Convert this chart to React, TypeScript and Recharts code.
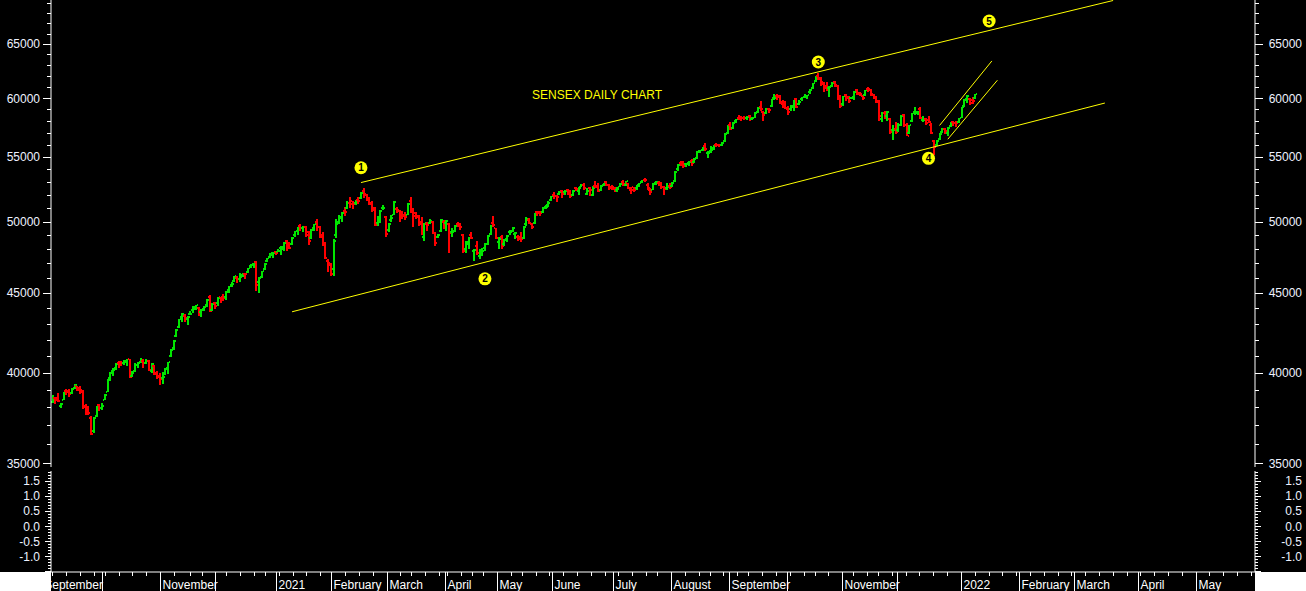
import { Bar, ComposedChart, Line, ReferenceDot, ReferenceLine, XAxis, YAxis } from "recharts";

// daily bars, [open, high, low, close]
const sep2020 = [
  [38300, 38720, 38250, 38357], [38530, 38610, 38200, 38417], [38520, 38790, 38300, 38365], [38100, 38260, 37940, 38194],
  [38420, 38880, 38400, 38840], [38900, 39030, 38700, 38854], [38950, 39070, 38600, 38757], [38800, 39100, 38730, 39044],
  [39100, 39360, 39050, 39303], [39200, 39240, 38900, 38980], [39100, 39200, 38730, 38845], [38960, 39000, 37900, 38034],
  [38100, 38200, 37550, 37734], [37900, 38080, 37590, 37668], [37400, 37490, 36500, 36553], [36700, 37450, 36600, 37389],
  [37500, 38050, 37450, 37982], [38150, 38180, 37800, 37973], [37980, 38240, 37870, 38068],
];
const oct2020 = [
  [38410, 38760, 38390, 38697], [38880, 39640, 38850, 39574], [39700, 40010, 39500, 39979], [40080, 40250, 39800, 40182],
  [40300, 40580, 40150, 40509], [40600, 40680, 40300, 40509], [40650, 40710, 40400, 40594], [40600, 40780, 40450, 40626],
  [40700, 40830, 40400, 40795], [40800, 40830, 39680, 39728], [39800, 40090, 39750, 39983], [40100, 40600, 40050, 40432],
  [40450, 40650, 40300, 40544], [40650, 40900, 40550, 40708], [40720, 40790, 40300, 40558], [40600, 40800, 40500, 40686],
  [40700, 40750, 40080, 40145], [40100, 40560, 40000, 40522], [40400, 40450, 39870, 39922], [40000, 40120, 39600, 39750],
  [39800, 39950, 39250, 39614],
];
const nov2020 = [
  [39700, 40010, 39330, 39758], [39900, 40300, 39880, 40261], [40240, 40660, 39900, 40616], [41000, 41400, 40950, 41340],
  [41500, 41950, 41350, 41893], [42250, 42650, 42150, 42597], [42800, 43320, 42700, 43278], [43400, 43710, 43100, 43594],
  [43500, 43600, 43100, 43357], [43300, 43510, 42900, 43443], [43600, 43830, 43550, 43638], [43900, 44160, 43700, 43953],
  [44050, 44230, 43900, 44180], [44000, 44050, 43500, 43600], [43750, 43960, 43400, 43882], [43950, 44150, 43800, 44077],
  [44200, 44600, 44100, 44523], [44700, 44830, 43770, 43828], [43900, 44300, 43800, 44260], [44300, 44400, 43950, 44150],
];
const dec2020 = [
  [44350, 44730, 44120, 44655], [44700, 44730, 44300, 44618], [44700, 44950, 44450, 44632], [44700, 45150, 44530, 45080],
  [45200, 45460, 45000, 45426], [45500, 45740, 45400, 45609], [45800, 46160, 45700, 46103], [46000, 46120, 45650, 45960],
  [45950, 46310, 45700, 46099], [46200, 46370, 46100, 46253], [46300, 46350, 45900, 46263], [46400, 46700, 46350, 46666],
  [46800, 46990, 46700, 46890], [46950, 47050, 46650, 46961], [47100, 47200, 45110, 45554], [45700, 46080, 45000, 46007],
  [46100, 46500, 46000, 46444], [46600, 47050, 46550, 46974], [47150, 47410, 47100, 47354], [47460, 47710, 47360, 47613],
  [47700, 47800, 47360, 47746], [47800, 47900, 47600, 47751],
];
const jan2021 = [
  [47790, 47980, 47770, 47869], [48100, 48220, 47590, 48177], [48000, 48490, 47900, 48437], [48600, 48620, 47860, 48174],
  [48400, 48500, 48000, 48093], [48400, 48850, 48300, 48782], [49000, 49300, 48900, 49269], [49300, 49570, 49000, 49517],
  [49700, 49800, 49300, 49492], [49500, 49650, 49200, 49584], [49600, 49700, 48900, 49035], [49200, 49300, 48300, 48564],
  [48800, 49450, 48700, 49398], [49500, 49850, 49300, 49792], [50000, 50184, 49300, 49625], [49600, 49700, 48800, 48879],
  [49000, 49200, 48200, 48348], [48400, 48500, 47300, 47410], [47200, 47300, 46400, 46874], [47000, 47000, 46160, 46286],
];
const feb2021 = [
  [46620, 48760, 46160, 48601], [49000, 50150, 48800, 49798], [50000, 50500, 49800, 50256], [50300, 50700, 50000, 50614],
  [50800, 51070, 50400, 50732], [51000, 51520, 50900, 51349], [51400, 51840, 51000, 51329], [51500, 51550, 50960, 51309],
  [51400, 51650, 51200, 51532], [51600, 51820, 51300, 51544], [51800, 52240, 51700, 52154], [52300, 52516, 51800, 52104],
  [52000, 52080, 51500, 51704], [51800, 51870, 51200, 51324], [51400, 51500, 50700, 50890], [51000, 51100, 49650, 49744],
  [49900, 50400, 49700, 50051], [50100, 50850, 49900, 50782], [51000, 51250, 50850, 51039], [50300, 50400, 48890, 49100],
];
const mar2021 = [
  [49400, 49900, 49200, 49850], [50100, 50450, 50000, 50297], [50500, 51550, 50450, 51445], [50900, 51100, 50600, 50846],
  [50800, 50850, 49950, 50406], [50600, 50800, 50150, 50441], [50500, 50700, 50100, 50364], [50500, 51400, 50450, 51280],
  [51500, 51820, 50600, 50792], [50900, 51000, 49600, 50395], [50600, 50700, 50200, 50364], [50400, 50500, 49700, 49802],
  [50000, 50300, 49000, 49216], [48900, 49900, 48600, 49858], [49800, 50000, 49300, 49771], [49900, 50200, 49800, 50051],
  [50000, 50050, 49100, 49180], [49200, 49250, 48240, 48440], [48900, 49100, 48800, 49008], [49300, 50200, 49250, 50136],
  [50000, 50100, 49450, 49509],
];
const apr2021 = [
  [49900, 50100, 49300, 50030], [49800, 49900, 47700, 49159], [49200, 49500, 48900, 49201], [49300, 49750, 49200, 49662],
  [49800, 50000, 49600, 49746], [49800, 49900, 49400, 49591], [49000, 49100, 47700, 47883], [48000, 48600, 47700, 48544],
  [48400, 48900, 48000, 48804], [49000, 49200, 48700, 48832], [47900, 48000, 47200, 47950], [48200, 48600, 47600, 47706],
  [47500, 48000, 47300, 47872], [47700, 48100, 47500, 47878], [48100, 48450, 47900, 48387], [48400, 49000, 48300, 48944],
  [49100, 49750, 49000, 49734], [49900, 50375, 49600, 49766], [49500, 49500, 48700, 48782],
];
const may2021 = [
  [48500, 48900, 48000, 48719], [48900, 49000, 48000, 48254], [48400, 48750, 48200, 48677], [48700, 49050, 48500, 48950],
  [49200, 49400, 49000, 49206], [49300, 49620, 49200, 49502], [49100, 49200, 48700, 49162], [48900, 49000, 48600, 48691],
  [48900, 49200, 48500, 48733], [48800, 49650, 48700, 49581], [49800, 50300, 49700, 50193], [50100, 50250, 49800, 49903],
  [49800, 49900, 49450, 49565], [49900, 50600, 49850, 50540], [50700, 50800, 50400, 50652], [50700, 50800, 50400, 50638],
  [50700, 51080, 50600, 51017], [51100, 51200, 50900, 51115], [51200, 51500, 51100, 51423], [51600, 51950, 51500, 51937],
];
const jun2021 = [
  [52000, 52200, 51700, 51935], [51900, 52000, 51450, 51849], [52100, 52300, 52000, 52232], [52300, 52350, 51800, 52100],
  [52200, 52400, 52000, 52328], [52400, 52450, 52000, 52276], [52300, 52350, 51800, 51942], [52000, 52350, 51900, 52300],
  [52500, 52650, 52300, 52475], [52300, 52600, 52000, 52551], [52600, 52870, 52600, 52773], [52800, 52900, 52400, 52502],
  [52100, 52500, 52000, 52323], [52500, 52600, 51900, 52344], [52000, 52700, 51900, 52574], [52700, 53050, 52500, 52588],
  [52700, 52900, 52200, 52306], [52400, 52800, 52300, 52699], [52800, 52950, 52700, 52925], [53000, 53100, 52700, 52735],
  [52800, 52850, 52400, 52549], [52600, 52750, 52400, 52483],
];
const jul2021 = [
  [52600, 52650, 52200, 52319], [52400, 52600, 52200, 52485], [52600, 52950, 52600, 52880], [53000, 53150, 52700, 52861],
  [52800, 53100, 52700, 53055], [52900, 52950, 52450, 52569], [52400, 52600, 52100, 52386], [52600, 52650, 52200, 52373],
  [52500, 52800, 52400, 52770], [52800, 52950, 52600, 52904], [53000, 53200, 52900, 53159], [53200, 53290, 53000, 53140],
  [52800, 52900, 52350, 52553], [52400, 52500, 52000, 52199], [52400, 52900, 52350, 52838], [52900, 53100, 52800, 52976],
  [52900, 53050, 52700, 52852], [52900, 53000, 52450, 52579], [52600, 52700, 52000, 52444], [52500, 52900, 52400, 52653],
  [52700, 52900, 52450, 52587],
];
const aug2021 = [
  [52700, 53000, 52600, 52951], [53100, 53900, 53000, 53823], [54000, 54470, 53900, 54370], [54500, 54700, 54300, 54493],
  [54600, 54700, 54100, 54278], [54400, 54500, 54200, 54403], [54500, 54700, 54300, 54555], [54700, 54800, 54250, 54526],
  [54600, 54900, 54500, 54844], [54900, 55490, 54800, 55437], [55500, 55600, 55300, 55582], [55600, 55850, 55500, 55792],
  [55900, 56120, 55500, 55629], [55300, 55500, 54900, 55329], [55500, 55900, 55300, 55556], [55700, 56000, 55600, 55958],
  [56000, 56150, 55800, 55944], [56000, 56100, 55800, 55950], [56000, 56200, 55900, 56125], [56300, 56950, 56200, 56890],
  [57000, 57620, 56900, 57552],
];
const sep2021 = [
  [57700, 57900, 57200, 57339], [57400, 57900, 57300, 57853], [58000, 58200, 57800, 58130], [58300, 58500, 58100, 58297],
  [58300, 58400, 58000, 58280], [58300, 58400, 58100, 58250], [58300, 58450, 58100, 58305], [58400, 58500, 58000, 58177],
  [58200, 58350, 58100, 58247], [58300, 58800, 58250, 58723], [58800, 59200, 58700, 59141], [59200, 59740, 58900, 59015],
  [58800, 58900, 58000, 58491], [58700, 59100, 58600, 59005], [59000, 59150, 58700, 58927], [59300, 59950, 59200, 59885],
  [60000, 60330, 59800, 60048], [60200, 60400, 59800, 60078], [60200, 60300, 59500, 59668], [59500, 59800, 59100, 59413],
  [59600, 59700, 59000, 59126],
];
const oct2021 = [
  [59000, 59300, 58550, 58765], [59000, 59400, 58900, 59300], [59200, 59800, 58900, 59744], [59900, 60000, 59100, 59189],
  [59500, 59800, 59400, 59678], [59900, 60100, 59700, 60059], [60100, 60400, 60000, 60136], [60200, 60300, 59900, 60284],
  [60500, 60830, 60400, 60737], [60900, 61350, 60800, 61306], [61500, 61960, 61400, 61766], [62000, 62245, 61600, 61716],
  [61800, 61900, 61050, 61260], [61400, 61450, 60500, 60924], [61100, 61400, 60600, 60821], [60900, 61100, 60100, 60967],
  [61100, 61450, 61000, 61350], [61400, 61500, 61000, 61143], [61100, 61200, 59800, 59985], [60000, 60300, 59100, 59307],
];
const nov2021 = [
  [59500, 60200, 59300, 60139], [60300, 60400, 59700, 60030], [60100, 60200, 59600, 59772], [60000, 60100, 59900, 60068],
  [60000, 60600, 59800, 60546], [60700, 60800, 60300, 60433], [60400, 60500, 60150, 60353], [60200, 60300, 59800, 60029],
  [60300, 60700, 60200, 60687], [60800, 61000, 60500, 60719], [60800, 60850, 60150, 60322], [60300, 60400, 59950, 60008],
  [60100, 60200, 59550, 59636], [59700, 59800, 58000, 58466], [58200, 58800, 57900, 58664], [58700, 58900, 58200, 58341],
  [58400, 58900, 58000, 58796], [58200, 58300, 56900, 57107], [57200, 57700, 56400, 57261], [57300, 57900, 56900, 57065],
];
const dec2021 = [
  [57200, 57800, 57100, 57685], [57700, 58500, 57600, 58462], [58500, 58600, 57500, 57696], [57700, 57800, 56700, 56747],
  [57000, 57700, 56900, 57634], [58000, 58700, 57900, 58650], [58800, 59200, 58500, 58808], [58700, 58900, 58500, 58787],
  [59000, 59200, 58200, 58283], [58100, 58400, 57900, 58117], [58200, 58300, 57700, 57789], [58100, 58400, 57800, 57902],
  [57700, 57800, 56900, 57012], [56300, 56400, 55132, 55822], [56000, 56400, 55900, 56319], [56500, 57000, 56400, 56931],
  [57100, 57400, 57000, 57315], [57300, 57400, 56900, 57124], [57000, 57500, 56700, 57420], [57600, 57950, 57500, 57897],
  [57900, 58000, 57600, 57806], [57800, 58000, 57500, 57795], [57900, 58300, 57800, 58254],
];
const jan2022 = [
  [58300, 59250, 58300, 59184], [59300, 59900, 59200, 59856], [59900, 60300, 59600, 60224], [59900, 60000, 59400, 59602],
  [59800, 60100, 59500, 59745], [60000, 60400, 59900, 60395],
];

const MONTH_BARS = [sep2020, oct2020, nov2020, dec2020, jan2021, feb2021, mar2021, apr2021, may2021, jun2021,
  jul2021, aug2021, sep2021, oct2021, nov2021, dec2021, jan2022];

// trading calendar of the axis (blank days after the last bar run to the end of May 2022)
const FIRST_DAY = "2020-09-04";
const LAST_DAY = "2022-05-31";
const LEAD_DAYS = 3; // Sep 1-3 2020 sit left of the plot
const HOLIDAYS = ["2020-10-02", "2020-11-16", "2020-11-30", "2020-12-25", "2021-01-26", "2021-03-11", "2021-03-29",
  "2021-04-02", "2021-04-14", "2021-04-21", "2021-05-13", "2021-07-21", "2021-08-19", "2021-09-10", "2021-10-15",
  "2021-11-05", "2021-11-19"];
const SPECIAL_SESSIONS = ["2020-11-14"];

const MONTH_LABELS = ["September", "", "November", "", "2021", "February", "March", "April", "May", "June", "July",
  "August", "September", "", "November", "", "2022", "February", "March", "April", "May"];
const PRICE_LABELS = [35000, 40000, 45000, 50000, 55000, 60000, 65000];
const OSC_LABELS = [-1.0, -0.5, 0.0, 0.5, 1.0, 1.5];

// Elliott wave counts and trend channels, in (day index, price)
const WAVES = [
  { n: "1", i: 112, v: 54130 },
  { n: "2", i: 157, v: 45940 },
  { n: "3", i: 278, v: 63280 },
  { n: "4", i: 318, v: 54890 },
  { n: "5", i: 340, v: 67230 },
];
const CHANNELS = [
  [{ i: 112, v: 52960 }, { i: 385, v: 69300 }],
  [{ i: 87, v: 43760 }, { i: 382, v: 59560 }],
  [{ i: 322, v: 57620 }, { i: 341, v: 63380 }],
  [{ i: 325, v: 56460 }, { i: 343, v: 61600 }],
];

const W = 1306;
const AXIS_W = 51;
const PRICE_DOMAIN = [34795, 69350];
const OSC_DOMAIN = [-1.533, 1.833];
const UP = "#00e600";
const DOWN = "#ff0000";
const YELLOW = "#ffff00";
const AXIS = "#ffffff";
const FONT = "'Liberation Sans', Arial, sans-serif";

const PRICE_TICKS: number[] = [];
for (let v = 35000; v <= 69000; v += 1000) PRICE_TICKS.push(v);
const OSC_TICKS: number[] = [];
for (let k = -15; k <= 18; k++) OSC_TICKS.push(k / 10);

function tradingDays() {
  const out: string[] = [];
  const d = new Date(FIRST_DAY + "T00:00:00Z");
  const end = new Date(LAST_DAY + "T00:00:00Z");
  while (d <= end) {
    const s = d.toISOString().slice(0, 10);
    const wd = d.getUTCDay();
    if ((wd !== 0 && wd !== 6 && !HOLIDAYS.includes(s)) || SPECIAL_SESSIONS.includes(s)) out.push(s);
    d.setUTCDate(d.getUTCDate() + 1);
  }
  return out;
}

const DAYS = tradingDays();
const BARS = MONTH_BARS.flat();
const BAND = (W - 2 * AXIS_W) / DAYS.length;

const rows = DAYS.map((date, i) => {
  const b = BARS[i];
  return b
    ? { i, date, o: b[0], h: b[1], l: b[2], c: b[3], range: [b[2], b[1]], osc: null }
    : { i, date, range: null, osc: null };
});

const monthStart = new Map<number, string>();
const weekStart = new Set<number>();
let monthNo = -1;
DAYS.forEach((d, i) => {
  const prev = DAYS[i - 1];
  if (!prev || prev.slice(0, 7) !== d.slice(0, 7)) {
    monthNo += 1;
    monthStart.set(i, MONTH_LABELS[monthNo] ?? "");
  }
  if (prev) {
    const a = new Date(prev + "T00:00:00Z");
    const b = new Date(d + "T00:00:00Z");
    if (b.getUTCDay() <= a.getUTCDay() || b.getTime() - a.getTime() >= 7 * 864e5) weekStart.add(i);
  }
});
const X_TICKS = DAYS.map((_, i) => i).filter((i) => monthStart.has(i) || weekStart.has(i));

function OhlcShape(props: any) {
  const { x, width, y, height, payload } = props;
  if (!payload || payload.o == null || height == null) return null;
  const { o, h, l, c } = payload;
  const top = Math.min(y, y + height);
  const span = Math.abs(height);
  const lh = Math.log(h) - Math.log(l);
  const at = (v: number) => top + (lh > 0 ? (span * (Math.log(h) - Math.log(v))) / lh : 0);
  const cx = Math.round(x + width / 2);
  const t = Math.round(top);
  const bt = Math.round(top + span);
  return (
    <g fill={c >= o ? UP : DOWN} shapeRendering="crispEdges">
      <rect x={cx - 1} y={t} width={2} height={Math.max(1, bt - t)} />
      <rect x={cx - 2} y={Math.round(at(o)) - 1} width={1} height={2} />
      <rect x={cx + 1} y={Math.round(at(c)) - 1} width={1} height={2} />
    </g>
  );
}

function PriceTick(props: any) {
  const { x, y, payload, side } = props;
  const v = payload.value;
  const major = PRICE_LABELS.includes(v);
  const dir = side === "left" ? -1 : 1;
  const yy = Math.round(y) + 0.5;
  return (
    <g>
      <line x1={x} x2={x + dir * (major ? 8 : 4)} y1={yy} y2={yy} stroke={AXIS} shapeRendering="crispEdges" />
      {major && (
        <text x={side === "left" ? x - 11 : x + 47} y={y + 4.5} textAnchor="end" fill="#eef2ff" fontSize={12} fontFamily={FONT}>
          {v}
        </text>
      )}
    </g>
  );
}

function OscTick(props: any) {
  const { x, y, payload, side } = props;
  const v = payload.value;
  const major = Math.abs(v * 2 - Math.round(v * 2)) < 1e-6;
  const labelled = OSC_LABELS.some((l) => Math.abs(l - v) < 1e-6);
  const dir = side === "left" ? -1 : 1;
  const yy = Math.round(y) + 0.5;
  return (
    <g>
      <line x1={x} x2={x + dir * (major ? 6 : 3)} y1={yy} y2={yy} stroke={AXIS} shapeRendering="crispEdges" />
      {labelled && (
        <text x={side === "left" ? x - 11 : x + 47} y={y + 4.5} textAnchor="end" fill="#eef2ff" fontSize={12} fontFamily={FONT}>
          {v.toFixed(1)}
        </text>
      )}
    </g>
  );
}

function DateTick(props: any) {
  const { x, y, payload } = props;
  const idx = payload.value as number;
  const left = Math.round(x - BAND / 2) + 0.5;
  if (monthStart.has(idx)) {
    const label = monthStart.get(idx);
    const lead = idx === 0 ? LEAD_DAYS * BAND : 0;
    return (
      <g>
        <line x1={left} x2={left} y1={y} y2={y + 20} stroke={AXIS} shapeRendering="crispEdges" />
        {label && (
          <text x={left - lead + 2} y={y + 17} fill="#ffffff" fontSize={12} fontFamily={FONT}>
            {label}
          </text>
        )}
      </g>
    );
  }
  return <line x1={left} x2={left} y1={y} y2={y + 4} stroke={AXIS} shapeRendering="crispEdges" />;
}

const noTick = { tickLine: false, tickSize: 0, tickMargin: 0, interval: 0 as const };

export default function App() {
  return (
    <div style={{ position: "absolute", left: 0, top: 0, width: W, height: 591, background: "#000", overflow: "hidden" }}>
      <ComposedChart width={W} height={471} data={rows} margin={{ top: 0, right: 0, bottom: 4, left: 0 }} barCategoryGap={0}>
        <XAxis dataKey="i" type="category" hide />
        <YAxis yAxisId="L" orientation="left" width={AXIS_W} type="number" scale="log" domain={PRICE_DOMAIN}
          allowDataOverflow ticks={PRICE_TICKS} axisLine={{ stroke: AXIS }} {...noTick}
          tick={(p: any) => <PriceTick {...p} side="left" />} />
        <YAxis yAxisId="R" orientation="right" width={AXIS_W} type="number" scale="log" domain={PRICE_DOMAIN}
          allowDataOverflow ticks={PRICE_TICKS} axisLine={{ stroke: AXIS }} {...noTick}
          tick={(p: any) => <PriceTick {...p} side="right" />} />
        <Bar yAxisId="L" dataKey="range" isAnimationActive={false} shape={(p: any) => <OhlcShape {...p} />} />
        {CHANNELS.map((seg, k) => (
          <ReferenceLine key={k} yAxisId="L" ifOverflow="hidden" stroke={YELLOW} strokeWidth={1}
            segment={[{ x: seg[0].i, y: seg[0].v }, { x: seg[1].i, y: seg[1].v }]} />
        ))}
        {WAVES.map((w) => (
          <ReferenceDot key={w.n} yAxisId="L" x={w.i} y={w.v} r={6.5} ifOverflow="visible"
            shape={(p: any) => (
              <g>
                <circle cx={p.cx} cy={p.cy} r={6.5} fill={YELLOW} />
                <text x={p.cx} y={p.cy + 3.5} textAnchor="middle" fontSize={10} fontWeight="bold" fill="#000" fontFamily={FONT}>
                  {w.n}
                </text>
              </g>
            )} />
        ))}
      </ComposedChart>
      <div style={{ position: "absolute", left: 532, top: 89, color: YELLOW, font: `12px ${FONT}`, lineHeight: "12px", whiteSpace: "nowrap" }}>
        SENSEX DAILY CHART
      </div>
      <div style={{ position: "absolute", left: 0, top: 471 }}>
        <ComposedChart width={W} height={120} data={rows} margin={{ top: 0, right: 0, bottom: 0, left: 0 }}>
          <XAxis dataKey="i" type="category" height={19} ticks={X_TICKS} axisLine={{ stroke: AXIS }} {...noTick}
            tick={(p: any) => <DateTick {...p} />} />
          <YAxis yAxisId="L" orientation="left" width={AXIS_W} type="number" domain={OSC_DOMAIN} allowDataOverflow
            ticks={OSC_TICKS} axisLine={{ stroke: AXIS }} {...noTick} tick={(p: any) => <OscTick {...p} side="left" />} />
          <YAxis yAxisId="R" orientation="right" width={AXIS_W} type="number" domain={OSC_DOMAIN} allowDataOverflow
            ticks={OSC_TICKS} axisLine={{ stroke: AXIS }} {...noTick} tick={(p: any) => <OscTick {...p} side="right" />} />
          <Line yAxisId="L" dataKey="osc" stroke="none" dot={false} isAnimationActive={false} />
          <Line yAxisId="R" dataKey="osc" stroke="none" dot={false} isAnimationActive={false} />
        </ComposedChart>
      </div>
      <div style={{ position: "absolute", left: 0, top: 572, width: AXIS_W, height: 19, background: "#fff" }} />
      <div style={{ position: "absolute", left: W - AXIS_W, top: 572, width: AXIS_W, height: 19, background: "#fff" }} />
    </div>
  );
}
